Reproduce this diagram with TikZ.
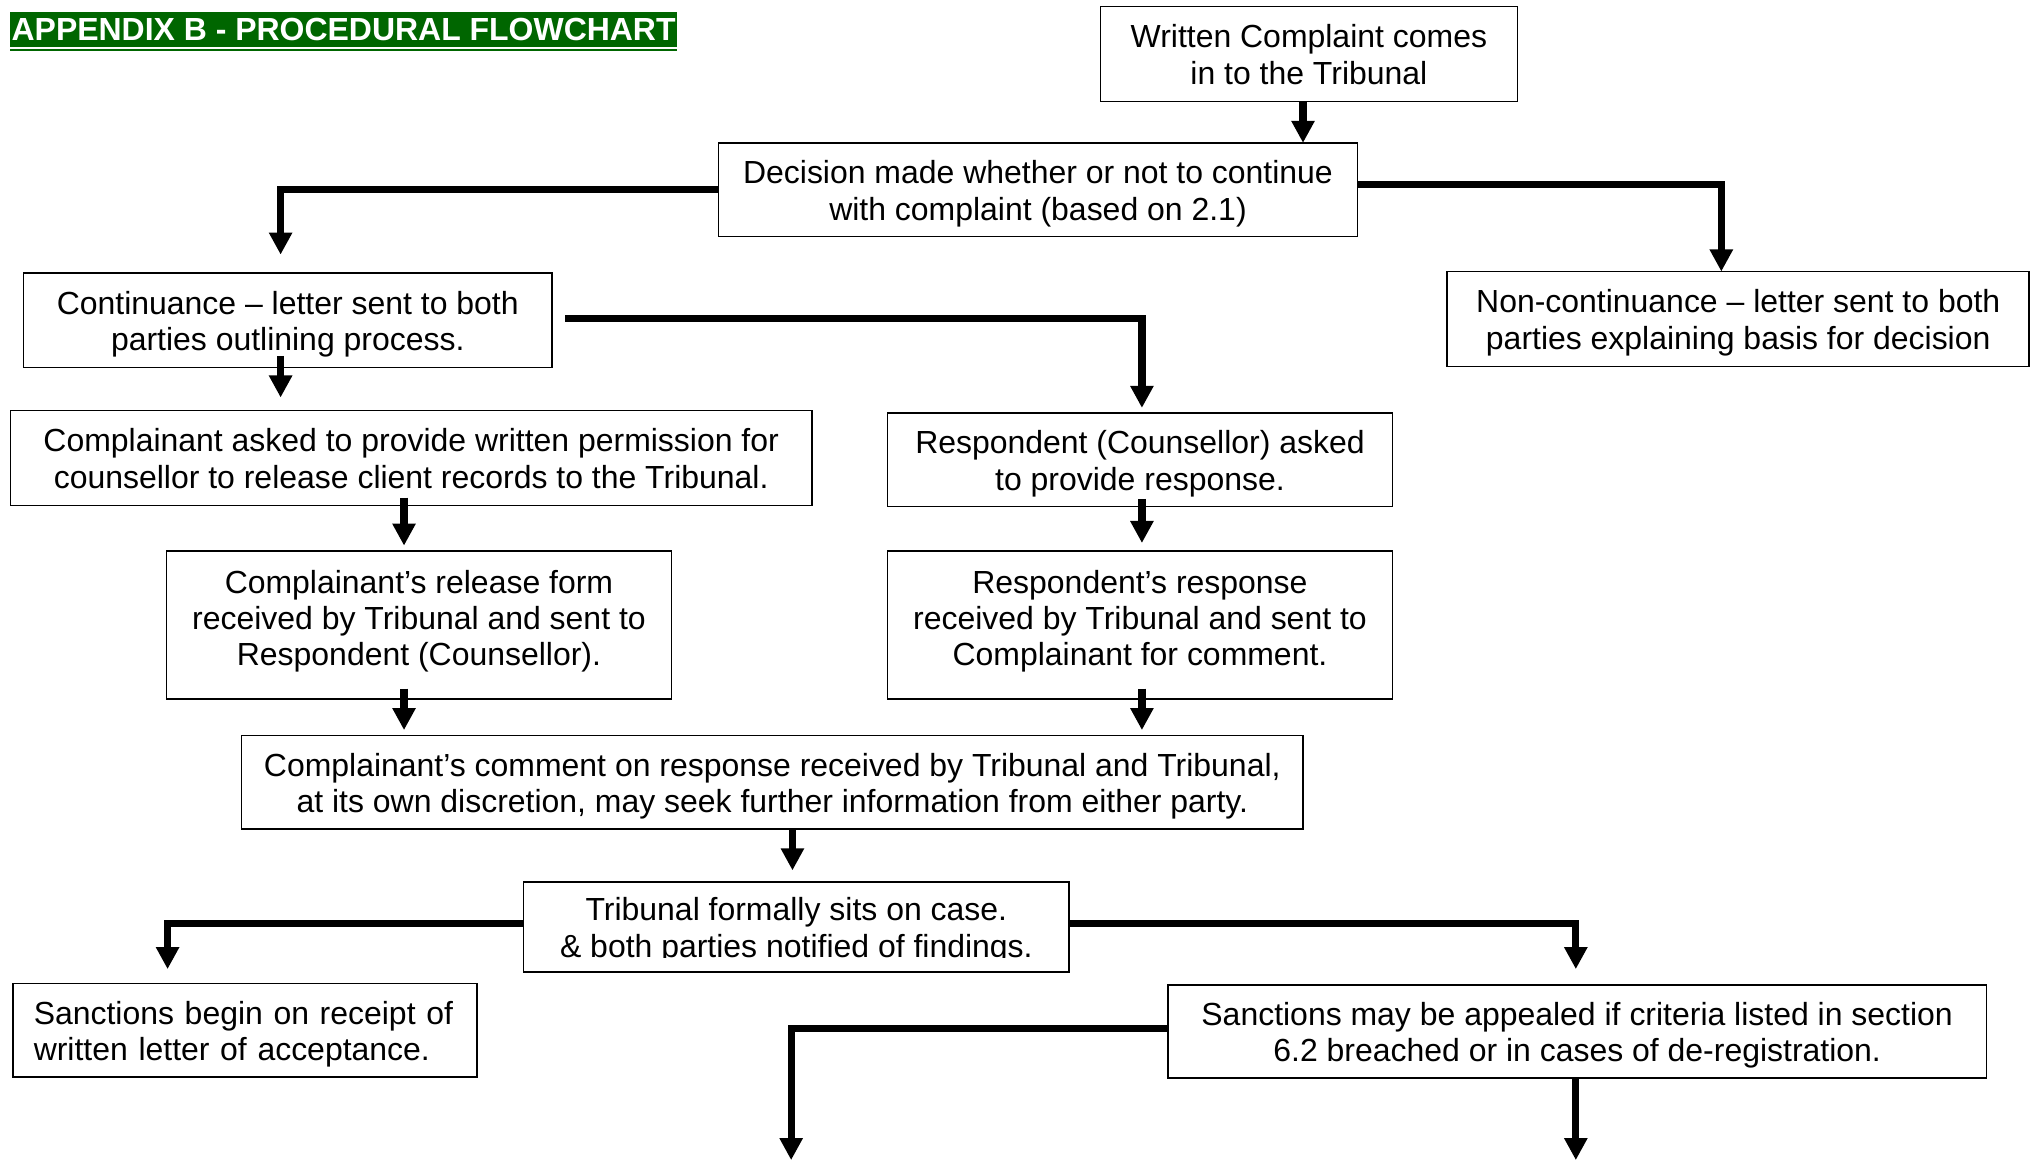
\documentclass[tikz,border=0pt]{standalone}
\usepackage{fontspec}
\setmainfont{Liberation Sans}
\usetikzlibrary{arrows.meta}
\definecolor{titlegreen}{RGB}{0,102,0}
\newcommand\topstrut{\rule{0pt}{24pt}}
\newcommand\bstrut{\rule[-5.3pt]{0pt}{0pt}}
\newcommand\botstrut{\rule[-17pt]{0pt}{0pt}}
\begin{document}
\begin{tikzpicture}[x=1pt,y=-1pt,
  box/.style={draw, line width=1.2pt, outer sep=0pt, inner sep=0pt, align=center,
    font=\fontsize{24.6}{28}\selectfont},
  flow/.style={line width=5.5pt, line join=miter, -{Triangle[width=17pt,length=17pt]}},
  titlebox/.style={fill=titlegreen, text=white, inner sep=0pt, outer sep=0pt,
    font=\fontsize{24.6}{28}\selectfont\bfseries}]
\useasboundingbox (0,0) rectangle (1568,893);

% title
\node[titlebox, minimum width=513pt, minimum height=27pt] (title) at (264.5,22.5) {APPENDIX B - PROCEDURAL FLOWCHART};
\draw[titlegreen, line width=1.5pt] ([yshift=-2.5pt]title.south west) -- ([yshift=-2.5pt]title.south east);

% boxes
\node[box, minimum width=321pt, minimum height=73pt] (t1) at (1007.5,41.5) {\topstrut Written Complaint comes\\in to the Tribunal\bstrut};
\node[box, minimum width=492pt, minimum height=72pt] (t2) at (799,146) {\topstrut Decision made whether or not to continue\\with complaint (based on 2.1)\bstrut};
\node[box, minimum width=407pt, minimum height=73pt] (t3) at (221.5,246.5) {\topstrut Continuance -- letter sent to both\\parties outlining process.\bstrut};
\node[box, minimum width=448pt, minimum height=73pt] (t4) at (1338,245.5) {\topstrut Non-continuance -- letter sent to both\\parties explaining basis for decision\bstrut};
\node[box, minimum width=617pt, minimum height=73pt] (t5) at (316.5,352.5) {\topstrut Complainant asked to provide written permission for\\counsellor to release client records to the Tribunal.\bstrut};
\node[box, minimum width=389pt, minimum height=72pt] (t6) at (877.5,354) {\topstrut Respondent (Counsellor) asked\\to provide response.\bstrut};
\node[box, minimum width=389pt, minimum height=114pt] (t7) at (322.5,481) {\topstrut Complainant’s release form\\received by Tribunal and sent to\\Respondent (Counsellor).\botstrut};
\node[box, minimum width=389pt, minimum height=114pt] (t8) at (877.5,481) {\topstrut Respondent’s response\\received by Tribunal and sent to\\Complainant for comment.\botstrut};
\node[box, minimum width=817pt, minimum height=72pt] (t9) at (594.5,602) {\topstrut Complainant’s comment on response received by Tribunal and Tribunal,\\at its own discretion, may seek further information from either party.\bstrut};
\node[box, minimum width=420pt, minimum height=69pt] (t10) at (613,713.5) {\topstrut Tribunal formally sits on case.\\\& both parties notified of findings.\bstrut};
\fill[white] ([xshift=1pt,yshift=0.8pt]t10.south west) rectangle ([xshift=-1pt,yshift=10.5pt]t10.south east);
\node[box, minimum width=357pt, minimum height=72pt, text width=325pt, align=left] (t11) at (188.5,793) {\topstrut Sanctions begin on receipt of\\written letter of acceptance.\bstrut};
\node[box, minimum width=630pt, minimum height=72pt] (t12) at (1214,794) {\topstrut Sanctions may be appealed if criteria listed in section\\6.2 breached or in cases of de-registration.\bstrut};

\coordinate (e1) at (609,893);
\coordinate (e2) at (1213,893);

% connectors
\draw[flow] ([xshift=-4.5pt]t1.south) -- ([xshift=-4.5pt]t1.south |- t2.north);
\draw[flow] (t2.west) -| ([xshift=-5.5pt,yshift=14pt]t3.north);
\draw[flow] ([yshift=4pt]t2.east) -| ([xshift=-13pt]t4.north);
\draw[flow] ([xshift=10pt,yshift=1.5pt]t3.east) -| ([xshift=1.5pt,yshift=4pt]t6.north);
\draw[flow] ([xshift=-5.5pt,yshift=9pt]t3.south) -- ([xshift=-5.5pt,yshift=10pt]t3.south |- t5.north);
\draw[flow] ([xshift=-5.5pt,yshift=6pt]t5.south) -- ([xshift=-5.5pt,yshift=4pt]t5.south |- t7.north);
\draw[flow] ([xshift=1.5pt,yshift=6pt]t6.south) -- ([xshift=1.5pt,yshift=6pt]t6.south |- t8.north);
\draw[flow] ([xshift=-11.5pt,yshift=8pt]t7.south) -- ([xshift=-11.5pt,yshift=4pt]t7.south |- t9.north);
\draw[flow] ([xshift=1.5pt,yshift=8pt]t8.south) -- ([xshift=1.5pt,yshift=4pt]t8.south |- t9.north);
\draw[flow] ([xshift=15.5pt]t9.south) -- ([xshift=15.5pt,yshift=9pt]t9.south |- t10.north);
\draw[flow] ([yshift=2.5pt]t10.west) -| ([xshift=-59.5pt,yshift=11pt]t11.north);
\draw[flow] ([yshift=2.5pt]t10.east) -| ([xshift=-1pt,yshift=12pt]t12.north);
\draw[flow] ([yshift=2pt]t12.west) -| (e1);
\draw[flow] ([xshift=-1pt]t12.south) -- (e2);
\end{tikzpicture}
\end{document}
